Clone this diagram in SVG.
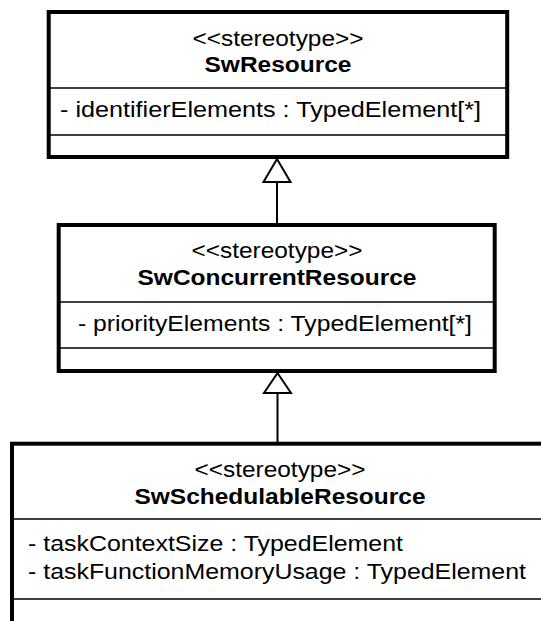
<svg xmlns="http://www.w3.org/2000/svg" width="541" height="621" viewBox="0 0 541 621">
<style>
.box{fill:#fff;stroke:#000;stroke-width:4}
.div{stroke:#000;stroke-width:1.6}
.st{font-family:"Liberation Sans",Arial,sans-serif;font-size:22px;text-anchor:middle;fill:#000}
.nm{font-family:"Liberation Sans",Arial,sans-serif;font-size:22px;font-weight:bold;text-anchor:middle;fill:#000}
.at{font-family:"Liberation Sans",Arial,sans-serif;font-size:22px;fill:#000}
.edge{stroke:#000;stroke-width:2;fill:none}
.head{stroke:#000;stroke-width:2;fill:#fff}
</style>
<rect width="541" height="621" fill="#fff"/>
<g id="connectors">
<line class="edge" x1="277" y1="182" x2="277" y2="223"/>
<polygon class="head" points="277,159 263.5,182 290.5,182"/>
<line class="edge" x1="277.5" y1="393" x2="277.5" y2="443"/>
<polygon class="head" points="277.5,373 264,393 291,393"/>
</g>
<g id="SwResource">
<rect class="box" x="48.7" y="12" width="458.5" height="145"/>
<line class="div" x1="48.7" y1="88" x2="507.2" y2="88"/>
<line class="div" x1="48.7" y1="135" x2="507.2" y2="135"/>
<text class="st" x="278" y="46" textLength="171" lengthAdjust="spacingAndGlyphs">&lt;&lt;stereotype&gt;&gt;</text>
<text class="nm" x="278" y="72" textLength="147" lengthAdjust="spacingAndGlyphs">SwResource</text>
<text class="at" x="60" y="117" textLength="421" lengthAdjust="spacingAndGlyphs">- identifierElements : TypedElement[*]</text>
</g>
<g id="SwConcurrentResource">
<rect class="box" x="58.7" y="225" width="436" height="146"/>
<line class="div" x1="58.7" y1="302" x2="494.7" y2="302"/>
<line class="div" x1="58.7" y1="348" x2="494.7" y2="348"/>
<text class="st" x="277" y="258" textLength="171" lengthAdjust="spacingAndGlyphs">&lt;&lt;stereotype&gt;&gt;</text>
<text class="nm" x="277" y="285" textLength="279" lengthAdjust="spacingAndGlyphs">SwConcurrentResource</text>
<text class="at" x="78" y="331" textLength="394" lengthAdjust="spacingAndGlyphs">- priorityElements : TypedElement[*]</text>
</g>
<g id="SwSchedulableResource">
<rect class="box" x="12" y="443.7" width="540" height="200"/>
<line class="div" x1="12" y1="519" x2="552" y2="519"/>
<line class="div" x1="12" y1="599" x2="552" y2="599"/>
<text class="st" x="280" y="477" textLength="171" lengthAdjust="spacingAndGlyphs">&lt;&lt;stereotype&gt;&gt;</text>
<text class="nm" x="280" y="504" textLength="291" lengthAdjust="spacingAndGlyphs">SwSchedulableResource</text>
<text class="at" x="28" y="551" textLength="375" lengthAdjust="spacingAndGlyphs">- taskContextSize : TypedElement</text>
<text class="at" x="28" y="579" textLength="498" lengthAdjust="spacingAndGlyphs">- taskFunctionMemoryUsage : TypedElement</text>
</g>
</svg>
